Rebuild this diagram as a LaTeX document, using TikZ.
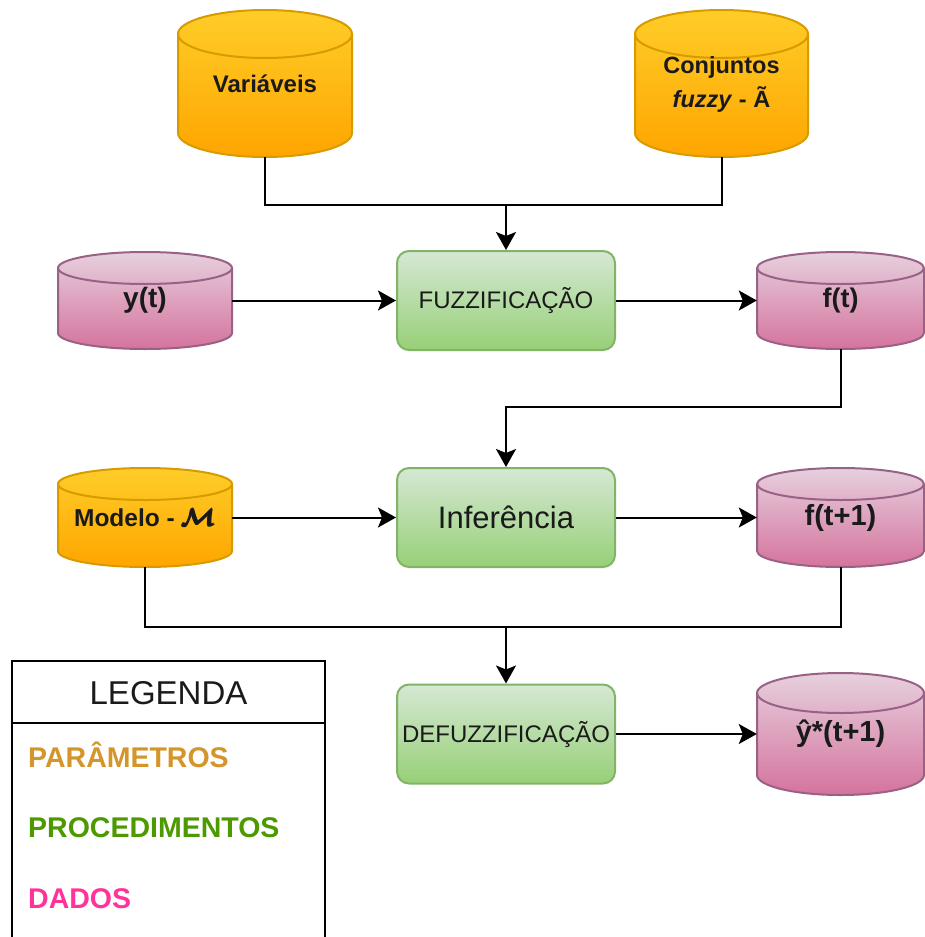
\documentclass[tikz,border=0pt]{standalone}
\usepackage{fontspec}
\setmainfont{Liberation Sans}
\usepackage{amsmath}
\usetikzlibrary{arrows.meta,calc}
\definecolor{orTop}{HTML}{FFCD28}
\definecolor{orBot}{HTML}{FFA500}
\definecolor{orStroke}{HTML}{D79B00}
\definecolor{grTop}{HTML}{D5E8D4}
\definecolor{grBot}{HTML}{97D077}
\definecolor{grStroke}{HTML}{82B366}
\definecolor{pkTop}{HTML}{E6D0DE}
\definecolor{pkBot}{HTML}{D5739D}
\definecolor{pkStroke}{HTML}{996185}
\definecolor{legOr}{HTML}{D4962A}
\definecolor{legGr}{HTML}{4D9900}
\definecolor{legPk}{HTML}{FF3399}
\definecolor{txt}{HTML}{1A1A1A}
\newcommand\cylinderdb[8]{%
  \pgfmathsetmacro\cx{(#2+#3)/2}%
  \pgfmathsetmacro\cy{-(#4+#5)/2}%
  \pgfmathsetmacro\rx{(#3-#2)/2}%
  \pgfmathsetmacro\cw{#3-#2}%
  \pgfmathsetmacro\ch{#5-#4}%
  \path[#7] (#2,-#4-#6) arc[start angle=180,end angle=0,x radius=\rx,y radius=#6] -- (#3,-#5+#6) arc[start angle=0,end angle=-180,x radius=\rx,y radius=#6] -- cycle;
  \draw[#7 line] (#2,-#4-#6) arc[start angle=180,end angle=360,x radius=\rx,y radius=#6];
  \node[cyltext, minimum width=\cw pt, minimum height=\ch pt] (#1) at (\cx,\cy) {#8};
}
\begin{document}
\begin{tikzpicture}[x=1pt,y=1pt,
  orangecyl/.style={top color=orTop, bottom color=orBot, draw=orStroke, line width=2pt},
  orangecyl line/.style={draw=orStroke, line width=2pt},
  pinkcyl/.style={top color=pkTop, bottom color=pkBot, draw=pkStroke, line width=2pt},
  pinkcyl line/.style={draw=pkStroke, line width=2pt},
  cyltext/.style={inner sep=0pt, text=txt},
  procbox/.style={rounded corners=12pt, top color=grTop, bottom color=grBot, draw=grStroke, line width=2pt, minimum width=218pt, minimum height=99pt, inner sep=0pt, text=txt},
  conn/.style={line width=2pt, black},
  arr/.style={conn, -{Stealth[length=18pt,width=20pt,inset=4pt]}},
  legitem/.style={anchor=west, inner sep=0pt, font=\fontsize{28.5}{30}\selectfont\bfseries},
]
\useasboundingbox (0,0) rectangle (925,-937);

% cylinders
\cylinderdb{var}{178}{352}{10}{157}{24}{orangecyl}{\fontsize{24}{32}\selectfont\bfseries Variáveis}
\cylinderdb{conj}{635}{808}{10}{157}{24}{orangecyl}{\fontsize{23.5}{34}\selectfont\bfseries\begin{tabular}{@{}c@{}}Conjuntos\\ \textit{fuzzy} - Ã\end{tabular}}
\cylinderdb{yt}{58}{232}{252}{349}{16}{pinkcyl}{\fontsize{28}{30}\selectfont\bfseries y(t)}
\cylinderdb{ft}{757}{924}{252}{349}{16}{pinkcyl}{\fontsize{27}{30}\selectfont\bfseries f(t)}
\cylinderdb{mod}{58}{232}{468}{567}{16}{orangecyl}{\fontsize{24.5}{30}\selectfont\bfseries Modelo - {\boldmath$\pmb{\mathcal{M}}$}}
\cylinderdb{ft1}{757}{924}{468}{567}{16}{pinkcyl}{\fontsize{29}{30}\selectfont\bfseries f(t+1)}
\cylinderdb{yhat}{757}{924}{673}{795}{20}{pinkcyl}{\fontsize{29}{30}\selectfont\bfseries ŷ*(t+1)}

% process boxes
\node[procbox] (fuzz) at (506,-300.5) {\fontsize{24}{26}\selectfont FUZZIFICAÇÃO};
\node[procbox] (inf) at (506,-517.5) {\fontsize{31}{34}\selectfont Inferência};
\node[procbox] (defuzz) at (506,-734) {\fontsize{24}{26}\selectfont DEFUZZIFICAÇÃO};

% connectors
\coordinate (j1) at (506,-205);
\coordinate (j3) at (506,-627);
\draw[conn] (var.south) |- (j1) -| (conj.south);
\draw[arr] (j1) -- (fuzz.north);
\draw[arr] (yt.east) -- (fuzz.west);
\draw[arr] (fuzz.east) -- (ft.west);
\draw[arr] (ft.south) -- ++(0,-58) -| (inf.north);
\draw[arr] (mod.east) -- (inf.west);
\draw[arr] (inf.east) -- (ft1.west);
\draw[conn] (mod.south) |- (j3) -| (ft1.south);
\draw[arr] (j3) -- (defuzz.north);
\draw[arr] (defuzz.east) -- (yhat.west |- defuzz.east);

% legend
\draw[conn] (12,-940) |- (325,-661) -- (325,-940);
\draw[conn] (12,-723) -- (325,-723);
\node[inner sep=0pt, text=txt, font=\fontsize{33}{36}\selectfont] (legtitle) at (168.5,-693) {LEGENDA};
\node[legitem, text=legOr] (legpar) at (28,-755) {PARÂMETROS};
\node[legitem, text=legGr] (legproc) at (28,-828) {PROCEDIMENTOS};
\node[legitem, text=legPk] (legdad) at (28,-899) {DADOS};
\end{tikzpicture}
\end{document}
